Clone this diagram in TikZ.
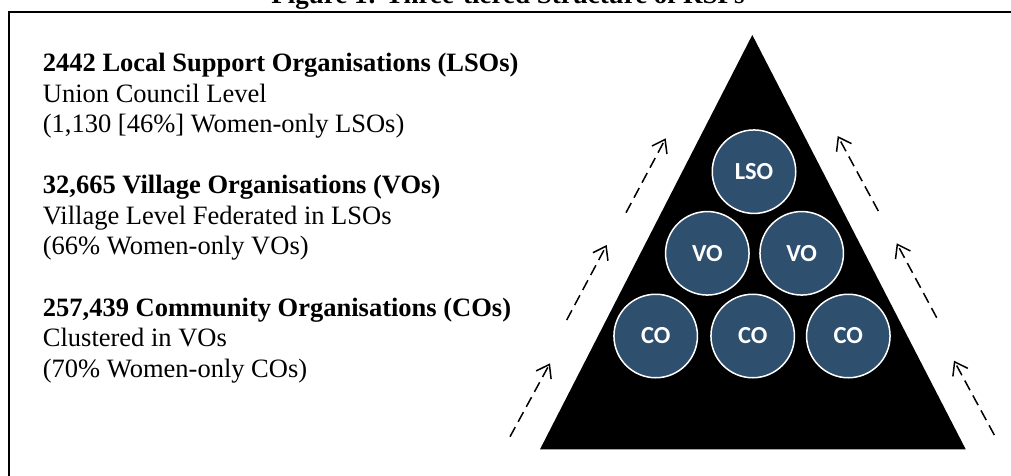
\documentclass[tikz,border=0pt]{standalone}
\usepackage{fontspec}
\setmainfont{Liberation Serif}
\newfontfamily\circlefont{Carlito}
\usepackage{xcolor}
\usepackage{tikz}
\usetikzlibrary{arrows.meta}
\definecolor{AzulRSP}{HTML}{2F4F6F}

\begin{document}
\begin{tikzpicture}[
  x = 1pt, y = -1pt,
  org/.style={
      circle, draw = white, line width = 1.5pt, fill = AzulRSP,
      minimum size = 83.5pt, inner sep = 0pt,
      text = white, font = \circlefont\bfseries\fontsize{24.5}{24.5}\selectfont
  },
  tier/.style={
      anchor = base west, align = left, inner sep = 0pt,
      font = \fontsize{26.5}{30.5}\selectfont
  },
  up/.style={
      line width = 1.5pt, dash pattern = on 11pt off 6pt,
      -{Straight Barb[length = 12pt, width = 17pt]}
  }
]
  \useasboundingbox (0, 0) rectangle (1011, 476);
  \node[anchor = base, inner sep = 0pt, font = \bfseries\fontsize{27}{27}\selectfont] (title) at (508, 4)
  {Figure 1: Three-tiered Structure of RSPs};
  \draw[line width = 2pt] (8.5, 476) |- (1011, 12.5);

  % the three tiers (base = last line)
  \node[tier] (lso text) at (42.7, 132.7)
  {\textbf{2442 Local Support Organisations (LSOs)}\\Union Council Level\\(1,130 [46\%] Women-only LSOs)};
  \node[tier] (vo text) at (42.7, 254.5)
  {\textbf{32,665 Village Organisations (VOs)}\\Village Level Federated in LSOs\\(66\% Women-only VOs)};
  \node[tier] (co text) at (42.7, 377)
  {\textbf{257,439 Community Organisations (COs)}\\Clustered in VOs\\(70\% Women-only COs)};

  \coordinate (apex) at (752.3, 35);
  \coordinate (base left) at (540, 449.3);
  \coordinate (base right) at (965.7, 449.3);
  \fill (base left) -- (apex) -- (base right) -- cycle;

  \node[org] (lso) at (754, 171.7) {LSO};
  \node[org] (vo 1) at (707.3, 253.3) {VO};
  \node[org] (vo 2) at (801.7, 253.3) {VO};
  \foreach \n/\x in {1/655.7, 2/752.7, 3/848.3}
  \node[org] (co \n) at (\x, 336) {CO};

  % dashed arrows on both sides
  \foreach \n/\s/\e in {1/{510, 436.7}/{550, 363.3}, 2/{566.7, 320}/{606.7, 245}, 3/{626, 212.7}/{665.7, 138.3}}{
    \coordinate (left start \n) at (\s);
    \coordinate (left end \n) at (\e);
    \draw[up] (left start \n) -- (left end \n);
  }
  \foreach \n/\s/\e in {1/{994.3, 435}/{954, 360.7}, 2/{936.7, 317.7}/{896.7, 243.3}, 3/{878.3, 211}/{837.7, 136}}{
    \coordinate (right start \n) at (\s);
    \coordinate (right end \n) at (\e);
    \draw[up] (right start \n) -- (right end \n);
  }
\end{tikzpicture}
\end{document}
